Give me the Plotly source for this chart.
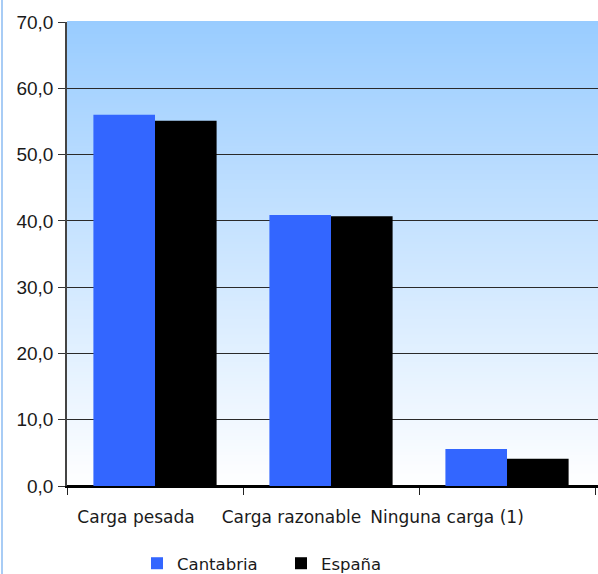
import plotly.graph_objects as go

categories = ["Carga pesada", "Carga razonable", "Ninguna carga (1)"]
cantabria = [56.0, 40.9, 5.6]
espana = [55.1, 40.7, 4.1]
y_ticks = [0, 10, 20, 30, 40, 50, 60, 70]

W, H = 598, 574
ML, MR, MT, MB = 67, 0, 22, 88
FONT = "DejaVu Sans"
TXT = "#1a1a1a"

fig = go.Figure()
fig.add_trace(go.Bar(name="Cantabria", x=categories, y=cantabria,
                     marker=dict(color="#3366FF", line=dict(width=0))))
fig.add_trace(go.Bar(name="España", x=categories, y=espana,
                     marker=dict(color="#000000", line=dict(width=0))))
# label-only overlay axis
fig.add_trace(go.Scatter(x=categories, y=[None] * 3, xaxis="x2", yaxis="y",
                         showlegend=False, hoverinfo="skip", mode="lines"))

# vertical gradient background (below gridlines)
shapes = []
N = 150
top = (153, 204, 255)
bot = (255, 255, 255)
for i in range(N):
    t = (i + 0.5) / N  # 0 bottom -> 1 top
    c = tuple(round(bot[k] + (top[k] - bot[k]) * t) for k in range(3))
    shapes.append(dict(type="rect", xref="x domain", yref="y domain",
                       x0=0, x1=1, y0=i / N, y1=(i + 1) / N + 0.002,
                       fillcolor="rgb(%d,%d,%d)" % c, line=dict(width=0),
                       layer="below"))
# left chart border
pw = W - ML - MR
ph = H - MT - MB
shapes.append(dict(type="line", xref="paper", yref="paper",
                   x0=(2 - ML) / pw, x1=(2 - ML) / pw, y0=-MB / ph, y1=1 + MT / ph,
                   line=dict(color="#A8CCF5", width=2)))

fig.update_layout(
    width=W, height=H,
    margin=dict(l=ML, r=MR, t=MT, b=MB, autoexpand=False),
    paper_bgcolor="white", plot_bgcolor="white",
    barmode="group", bargap=0.30, bargroupgap=0,
    separators=",.",
    font=dict(family=FONT, size=15, color=TXT),
    shapes=shapes,
    showlegend=True,
    legend=dict(orientation="h", xref="container", yref="container",
                x=281 / W, xanchor="center", y=1 - 546 / H, yanchor="top",
                font=dict(family=FONT, size=16.5, color=TXT),
                entrywidth=99, entrywidthmode="pixels",
                bgcolor="rgba(0,0,0,0)"),
    xaxis=dict(type="category", categoryarray=categories, range=[-0.5, 2.517],
               showticklabels=False, ticks="outside", tickson="boundaries",
               ticklen=7, tickcolor="#222", showgrid=False, automargin=False,
               showline=True, linecolor="#000", linewidth=1.5, zeroline=False),
    xaxis2=dict(type="category", categoryarray=categories, overlaying="x",
                anchor="y", side="bottom", automargin=False,
                range=[-(136 - ML) / 155.5, -(136 - ML) / 155.5 + pw / 155.5],
                showticklabels=True, ticks="", showgrid=False, showline=False,
                zeroline=False, tickfont=dict(family=FONT, size=17, color=TXT),
                ticklabelstandoff=19),
    yaxis=dict(range=[0, 70], tickvals=y_ticks, tickformat=".1f", automargin=False,
               showgrid=True, gridcolor="#2a2a2a", gridwidth=1,
               ticks="outside", ticklen=7, tickcolor="#333",
               showline=True, linecolor="#444", linewidth=1.5,
               zeroline=True, zerolinecolor="#000", zerolinewidth=1.5,
               tickfont=dict(family="Liberation Sans", size=19, color=TXT),
               ticklabelstandoff=1),
)

fig.write_html("out.html", config={"displayModeBar": False},
               post_script="document.body.style.margin='0px';document.body.style.overflow='hidden';")
